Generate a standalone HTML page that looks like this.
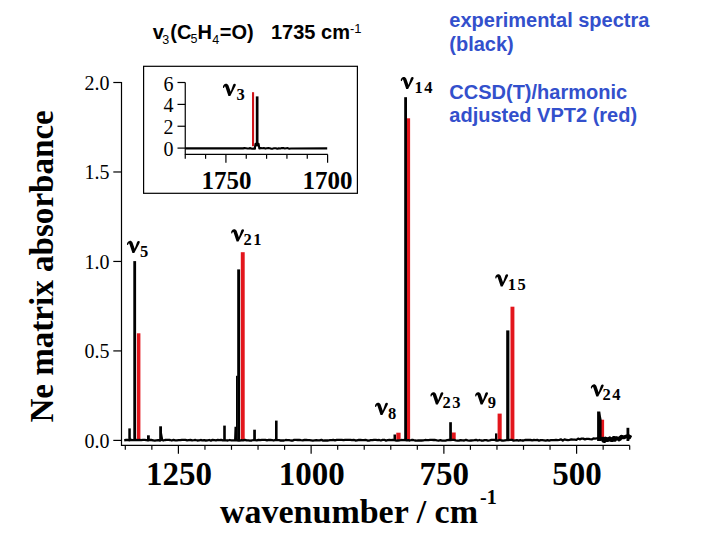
<!DOCTYPE html>
<html><head><meta charset="utf-8">
<style>
html,body{margin:0;padding:0;background:#fff;}
body{width:720px;height:540px;overflow:hidden;position:relative;}
svg{position:absolute;left:0;top:0;}
</style></head><body>
<svg width="720" height="540" viewBox="0 0 720 540">

<g font-family="Liberation Sans, sans-serif" font-weight="bold" font-size="20" fill="#000">
<text x="152.7" y="39.4">v</text>
<text x="162.3" y="43.6" font-weight="normal" font-size="12.5">3</text>
<text x="170.3" y="38.6">(C</text>
<text x="190.5" y="43.3" font-weight="normal" font-size="12.5">5</text>
<text x="197.6" y="38.6">H</text>
<text x="212.3" y="43.7" font-weight="normal" font-size="12.5">4</text>
<text x="219.8" y="38.6">=O)</text>
<text x="271" y="38.6">1735 cm<tspan font-weight="normal" font-size="13" dy="-5.5">-1</tspan></text>
</g>
<g font-family="Liberation Sans, sans-serif" font-weight="bold" font-size="20" fill="#3350cc">
<text x="449.3" y="26.8">experimental spectra</text>
<text x="449.3" y="51">(black)</text>
<text x="449.3" y="98.5">CCSD(T)/harmonic</text>
<text x="449.3" y="122.1">adjusted VPT2 (red)</text>
</g>

<g stroke="#000" stroke-width="1.2" fill="none">
<path d="M121.5 82 V445.4 H629.8"/>
<path d="M113.3 440.40 H121.5"/>
<path d="M113.3 350.92 H121.5"/>
<path d="M113.3 261.45 H121.5"/>
<path d="M113.3 171.98 H121.5"/>
<path d="M113.3 82.50 H121.5"/>
<path d="M125.31 445.4 V449.8"/>
<path d="M151.85 445.4 V449.8"/>
<path d="M178.40 445.4 V453.8"/>
<path d="M204.95 445.4 V449.8"/>
<path d="M231.49 445.4 V449.8"/>
<path d="M258.04 445.4 V449.8"/>
<path d="M284.59 445.4 V449.8"/>
<path d="M311.13 445.4 V453.8"/>
<path d="M337.68 445.4 V449.8"/>
<path d="M364.23 445.4 V449.8"/>
<path d="M390.77 445.4 V449.8"/>
<path d="M417.32 445.4 V449.8"/>
<path d="M443.87 445.4 V453.8"/>
<path d="M470.41 445.4 V449.8"/>
<path d="M496.96 445.4 V449.8"/>
<path d="M523.51 445.4 V449.8"/>
<path d="M550.05 445.4 V449.8"/>
<path d="M576.60 445.4 V453.8"/>
<path d="M603.15 445.4 V449.8"/>
<path d="M629.69 445.4 V449.8"/>
</g>
<g font-family="Liberation Serif, serif" font-size="20" fill="#000" text-anchor="end">
<text x="109.5" y="89.80">2.0</text>
<text x="109.5" y="179.28">1.5</text>
<text x="109.5" y="268.75">1.0</text>
<text x="109.5" y="358.22">0.5</text>
<text x="109.5" y="447.70">0.0</text>
</g>
<g font-family="Liberation Serif, serif" font-weight="bold" font-size="33" fill="#000" text-anchor="middle">
<text x="178.90" y="484.8">1250</text>
<text x="311.63" y="484.8">1000</text>
<text x="444.37" y="484.8">750</text>
<text x="577.10" y="484.8">500</text>
</g>
<text font-family="Liberation Serif, serif" font-weight="bold" font-size="33" x="220" y="522.9" textLength="258" lengthAdjust="spacingAndGlyphs">wavenumber / cm</text>
<text font-family="Liberation Serif, serif" font-weight="bold" font-size="20" x="480" y="503.5">-1</text>
<text font-family="Liberation Serif, serif" font-weight="bold" font-size="33" transform="translate(52.8 422.6) rotate(-90)" textLength="312.4" lengthAdjust="spacingAndGlyphs">Ne matrix absorbance</text>
<g fill="#e3161c">
<rect x="136.9" y="333.3" width="3.5" height="106.5"/>
<rect x="240.8" y="252.2" width="3.9" height="187.6"/>
<rect x="396.3" y="432.7" width="4.3" height="7.1"/>
<rect x="406.7" y="118.3" width="3.4" height="321.5"/>
<rect x="451.8" y="432.5" width="3.9" height="7.3"/>
<rect x="497.6" y="413.6" width="4.1" height="26.2"/>
<rect x="510.5" y="306.7" width="3.9" height="133.1"/>
<rect x="600.4" y="419.7" width="3.7" height="20.1"/>
</g>
<path d="M124.2 440.3 L125.9 440.0 L127.6 439.9 L129.3 440.3 L131.0 439.8 L132.7 440.2 L134.4 440.1 L136.1 439.8 L137.8 440.2 L139.5 439.8 L141.2 440.1 L142.9 439.8 L144.6 439.8 L146.3 440.1 L148.0 440.5 L149.7 439.9 L151.4 440.0 L153.1 440.3 L154.8 440.6 L156.5 440.3 L158.2 440.1 L159.9 440.6 L161.6 439.8 L163.3 440.5 L165.0 440.0 L166.7 439.9 L168.4 439.9 L170.1 440.0 L171.8 440.5 L173.5 439.9 L175.2 440.3 L176.9 440.3 L178.6 440.1 L180.3 440.2 L182.0 439.8 L183.7 439.8 L185.4 439.9 L187.1 440.4 L188.8 440.1 L190.5 440.0 L192.2 440.3 L193.9 440.2 L195.6 440.0 L197.3 440.5 L199.0 440.4 L200.7 440.0 L202.4 440.3 L204.1 440.2 L205.8 440.5 L207.5 440.4 L209.2 440.0 L210.9 440.6 L212.6 439.9 L214.3 440.1 L216.0 440.4 L217.7 439.9 L219.4 440.2 L221.1 439.8 L222.8 440.4 L224.5 440.4 L226.2 440.3 L227.9 440.5 L229.6 440.0 L231.3 440.4 L233.0 440.3 L234.7 440.3 L236.4 440.2 L238.1 440.5 L239.8 440.6 L241.5 440.2 L243.2 440.3 L244.9 439.8 L246.6 440.4 L248.3 440.3 L250.0 440.6 L251.7 440.5 L253.4 440.0 L255.1 440.1 L256.8 440.4 L258.5 439.8 L260.2 440.2 L261.9 439.9 L263.6 439.9 L265.3 439.8 L267.0 440.4 L268.7 439.9 L270.4 440.0 L272.1 440.1 L273.8 440.5 L275.5 439.8 L277.2 440.2 L278.9 440.2 L280.6 440.5 L282.3 440.5 L284.0 440.5 L285.7 440.0 L287.4 440.1 L289.1 440.1 L290.8 440.5 L292.5 440.6 L294.2 439.9 L295.9 439.9 L297.6 440.0 L299.3 440.0 L301.0 440.2 L302.7 440.3 L304.4 440.0 L306.1 439.8 L307.8 440.1 L309.5 440.1 L311.2 440.3 L312.9 440.6 L314.6 440.4 L316.3 440.2 L318.0 440.3 L319.7 440.4 L321.4 439.8 L323.1 440.6 L324.8 440.5 L326.5 440.5 L328.2 440.5 L329.9 440.1 L331.6 440.1 L333.3 439.8 L335.0 440.3 L336.7 439.8 L338.4 439.8 L340.1 439.9 L341.8 439.9 L343.5 440.1 L345.2 439.8 L346.9 439.8 L348.6 439.9 L350.3 439.8 L352.0 440.1 L353.7 439.8 L355.4 440.5 L357.1 440.3 L358.8 439.9 L360.5 440.0 L362.2 440.1 L363.9 440.1 L365.6 439.9 L367.3 440.5 L369.0 440.6 L370.7 440.2 L372.4 440.2 L374.1 439.8 L375.8 439.8 L377.5 440.1 L379.2 440.0 L380.9 440.5 L382.6 439.9 L384.3 439.8 L386.0 440.6 L387.7 440.2 L389.4 439.9 L391.1 440.2 L392.8 439.8 L394.5 440.2 L396.2 440.6 L397.9 440.5 L399.6 440.4 L401.3 440.0 L403.0 440.1 L404.7 439.9 L406.4 440.4 L408.1 440.2 L409.8 440.5 L411.5 440.0 L413.2 440.0 L414.9 440.5 L416.6 440.6 L418.3 440.5 L420.0 440.5 L421.7 440.5 L423.4 440.4 L425.1 440.0 L426.8 440.2 L428.5 440.1 L430.2 439.8 L431.9 439.8 L433.6 440.0 L435.3 440.0 L437.0 440.4 L438.7 440.6 L440.4 440.2 L442.1 440.6 L443.8 440.6 L445.5 440.6 L447.2 440.1 L448.9 439.9 L450.6 440.0 L452.3 439.9 L454.0 439.9 L455.7 440.3 L457.4 440.6 L459.1 440.5 L460.8 440.2 L462.5 440.3 L464.2 440.5 L465.9 439.8 L467.6 440.3 L469.3 440.6 L471.0 440.5 L472.7 440.4 L474.4 440.2 L476.1 439.9 L477.8 440.5 L479.5 440.0 L481.2 440.5 L482.9 440.6 L484.6 440.1 L486.3 440.1 L488.0 440.6 L489.7 440.4 L491.4 439.9 L493.1 439.9 L494.8 439.9 L496.5 440.6 L498.2 440.5 L499.9 439.9 L501.6 440.5 L503.3 440.6 L505.0 440.3 L506.7 440.1 L508.4 440.2 L510.1 439.9 L511.8 439.8 L513.5 440.6 L515.2 440.3 L516.9 440.2 L518.6 440.6 L520.3 440.1 L522.0 440.5 L523.7 440.5 L525.4 439.9 L527.1 440.0 L528.8 440.0 L530.5 440.0 L532.2 440.3 L533.9 440.0 L535.6 440.1 L537.3 439.9 L539.0 440.6 L540.7 440.1 L542.4 440.2 L544.1 440.3 L545.8 440.6 L547.5 440.1 L549.2 440.6 L550.9 440.2 L552.6 440.2 L554.3 440.2 L556.0 439.8 L557.7 440.1 L559.4 439.9 L561.1 439.3 L562.8 440.6 L564.5 439.4 L566.2 439.8 L567.9 440.2 L569.6 439.8 L571.3 439.3 L573.0 439.6 L574.7 439.6 L576.4 439.9 L578.1 438.6 L579.8 439.3 L581.5 438.7 L583.2 438.6 L584.9 439.4 L586.6 438.9 L588.3 438.9 L590.0 439.2 L591.7 439.4 L593.4 438.4 L595.1 438.6 L596.8 438.4 L598.5 438.3 L600.2 438.5 L601.9 438.0 L603.6 438.1 L605.3 437.9 L607.0 438.6 L608.7 438.1 L610.4 438.4 L612.1 438.4 L613.8 437.1 L615.5 437.5 L617.2 438.1 L618.9 437.9 L620.6 436.5 L622.3 436.4 L624.0 436.9 L625.7 436.1 L627.4 436.4 L629.1 436.0 L629.8 437.0" fill="none" stroke="#000" stroke-width="2.3" stroke-linejoin="round"/>
<path d="M602 437.5 L603.3 440.9 L604.6 441.1 L605.9 438.7 L607.2 440.2 L608.5 439.9 L609.8 438.2 L611.1 440.2 L612.4 440.3 L613.7 437.9 L615.0 439.9 L616.3 438.1 L617.6 438.2 L618.9 439.6 L620.2 438.9 L621.5 436.7 L622.8 437.4 L624.1 437.5 L625.4 436.8 L626.7 436.2 L628.0 436.4 L629.3 437.5 L630.6 435.2" fill="none" stroke="#000" stroke-width="3.6" stroke-linejoin="round"/>
<g fill="#000">
<rect x="128.3" y="428.4" width="2.5" height="12.6"/>
<rect x="133.3" y="261.1" width="2.8" height="179.9"/>
<rect x="147.0" y="435.3" width="2.8" height="5.7"/>
<rect x="159.2" y="426.3" width="2.8" height="14.7"/>
<rect x="223.2" y="425.6" width="2.6" height="15.4"/>
<rect x="236.0" y="375.8" width="1.6" height="65.2"/>
<rect x="237.2" y="269.4" width="2.9" height="171.6"/>
<rect x="253.2" y="429.7" width="2.7" height="11.3"/>
<rect x="275.0" y="420.6" width="2.6" height="20.4"/>
<rect x="393.5" y="434.5" width="2.5" height="6.5"/>
<rect x="404.2" y="97.2" width="2.8" height="343.8"/>
<rect x="449.2" y="422.2" width="2.7" height="18.8"/>
<rect x="495.0" y="433.4" width="2.3" height="7.6"/>
<rect x="506.2" y="330.4" width="3.2" height="110.6"/>
<rect x="597.1" y="411.5" width="3.2" height="29.5"/>
<rect x="626.5" y="427.8" width="2.8" height="13.2"/>
<path d="M600 411.8 L601.6 419.5 L601.6 441 L600 441Z M130.5 437 L132 441 L130.5 441Z M161.5 430 L163.5 441 L161.5 441Z M234.5 426.7 L236 426.7 L236 441 L234 441Z"/>
</g>
<path d="M0.1 3.6 C-0.2 2.2 0.8 0.3 2.7 0.0 C3.9 -0.2 5.0 0.5 5.6 1.7 L7.8 7.9 L10.2 1.0 C10.5 0.3 11.3 -0.1 12.0 0 C12.7 0.1 13.0 0.6 12.9 1.2 C12.8 1.8 12.6 2.3 12.3 2.8 L7.4 12.1 L5.5 12.1 L2.5 3.1 C2.3 2.5 1.8 2.5 1.5 2.9 C1.3 3.3 1.4 3.9 0.9 4.1 C0.5 4.2 0.2 4.0 0.1 3.6 Z" transform="translate(126.9 240.9)"/>
<text x="140.00" y="256.70" font-family="Liberation Serif, serif" font-weight="bold" font-size="16.5" fill="#000">5</text>
<path d="M0.1 3.6 C-0.2 2.2 0.8 0.3 2.7 0.0 C3.9 -0.2 5.0 0.5 5.6 1.7 L7.8 7.9 L10.2 1.0 C10.5 0.3 11.3 -0.1 12.0 0 C12.7 0.1 13.0 0.6 12.9 1.2 C12.8 1.8 12.6 2.3 12.3 2.8 L7.4 12.1 L5.5 12.1 L2.5 3.1 C2.3 2.5 1.8 2.5 1.5 2.9 C1.3 3.3 1.4 3.9 0.9 4.1 C0.5 4.2 0.2 4.0 0.1 3.6 Z" transform="translate(231.1 229.3)"/>
<text x="243.60" y="245.00" font-family="Liberation Serif, serif" font-weight="bold" font-size="16.5" letter-spacing="1.5" fill="#000">21</text>
<path d="M0.1 3.6 C-0.2 2.2 0.8 0.3 2.7 0.0 C3.9 -0.2 5.0 0.5 5.6 1.7 L7.8 7.9 L10.2 1.0 C10.5 0.3 11.3 -0.1 12.0 0 C12.7 0.1 13.0 0.6 12.9 1.2 C12.8 1.8 12.6 2.3 12.3 2.8 L7.4 12.1 L5.5 12.1 L2.5 3.1 C2.3 2.5 1.8 2.5 1.5 2.9 C1.3 3.3 1.4 3.9 0.9 4.1 C0.5 4.2 0.2 4.0 0.1 3.6 Z" transform="translate(400.7 77.0)"/>
<text x="414.50" y="92.75" font-family="Liberation Serif, serif" font-weight="bold" font-size="16.5" letter-spacing="1.5" fill="#000">14</text>
<path d="M0.1 3.6 C-0.2 2.2 0.8 0.3 2.7 0.0 C3.9 -0.2 5.0 0.5 5.6 1.7 L7.8 7.9 L10.2 1.0 C10.5 0.3 11.3 -0.1 12.0 0 C12.7 0.1 13.0 0.6 12.9 1.2 C12.8 1.8 12.6 2.3 12.3 2.8 L7.4 12.1 L5.5 12.1 L2.5 3.1 C2.3 2.5 1.8 2.5 1.5 2.9 C1.3 3.3 1.4 3.9 0.9 4.1 C0.5 4.2 0.2 4.0 0.1 3.6 Z" transform="translate(375 402.8)"/>
<text x="388.10" y="418.70" font-family="Liberation Serif, serif" font-weight="bold" font-size="16.5" fill="#000">8</text>
<path d="M0.1 3.6 C-0.2 2.2 0.8 0.3 2.7 0.0 C3.9 -0.2 5.0 0.5 5.6 1.7 L7.8 7.9 L10.2 1.0 C10.5 0.3 11.3 -0.1 12.0 0 C12.7 0.1 13.0 0.6 12.9 1.2 C12.8 1.8 12.6 2.3 12.3 2.8 L7.4 12.1 L5.5 12.1 L2.5 3.1 C2.3 2.5 1.8 2.5 1.5 2.9 C1.3 3.3 1.4 3.9 0.9 4.1 C0.5 4.2 0.2 4.0 0.1 3.6 Z" transform="translate(430.4 392.3)"/>
<text x="442.50" y="407.90" font-family="Liberation Serif, serif" font-weight="bold" font-size="16.5" letter-spacing="1.5" fill="#000">23</text>
<path d="M0.1 3.6 C-0.2 2.2 0.8 0.3 2.7 0.0 C3.9 -0.2 5.0 0.5 5.6 1.7 L7.8 7.9 L10.2 1.0 C10.5 0.3 11.3 -0.1 12.0 0 C12.7 0.1 13.0 0.6 12.9 1.2 C12.8 1.8 12.6 2.3 12.3 2.8 L7.4 12.1 L5.5 12.1 L2.5 3.1 C2.3 2.5 1.8 2.5 1.5 2.9 C1.3 3.3 1.4 3.9 0.9 4.1 C0.5 4.2 0.2 4.0 0.1 3.6 Z" transform="translate(475.1 392.3)"/>
<text x="487.70" y="407.90" font-family="Liberation Serif, serif" font-weight="bold" font-size="16.5" fill="#000">9</text>
<path d="M0.1 3.6 C-0.2 2.2 0.8 0.3 2.7 0.0 C3.9 -0.2 5.0 0.5 5.6 1.7 L7.8 7.9 L10.2 1.0 C10.5 0.3 11.3 -0.1 12.0 0 C12.7 0.1 13.0 0.6 12.9 1.2 C12.8 1.8 12.6 2.3 12.3 2.8 L7.4 12.1 L5.5 12.1 L2.5 3.1 C2.3 2.5 1.8 2.5 1.5 2.9 C1.3 3.3 1.4 3.9 0.9 4.1 C0.5 4.2 0.2 4.0 0.1 3.6 Z" transform="translate(495.2 274.3)"/>
<text x="507.70" y="289.60" font-family="Liberation Serif, serif" font-weight="bold" font-size="16.5" letter-spacing="1.5" fill="#000">15</text>
<path d="M0.1 3.6 C-0.2 2.2 0.8 0.3 2.7 0.0 C3.9 -0.2 5.0 0.5 5.6 1.7 L7.8 7.9 L10.2 1.0 C10.5 0.3 11.3 -0.1 12.0 0 C12.7 0.1 13.0 0.6 12.9 1.2 C12.8 1.8 12.6 2.3 12.3 2.8 L7.4 12.1 L5.5 12.1 L2.5 3.1 C2.3 2.5 1.8 2.5 1.5 2.9 C1.3 3.3 1.4 3.9 0.9 4.1 C0.5 4.2 0.2 4.0 0.1 3.6 Z" transform="translate(590.8 384.4)"/>
<text x="602.60" y="400.40" font-family="Liberation Serif, serif" font-weight="bold" font-size="16.5" letter-spacing="1.5" fill="#000">24</text>
<path d="M0.1 3.6 C-0.2 2.2 0.8 0.3 2.7 0.0 C3.9 -0.2 5.0 0.5 5.6 1.7 L7.8 7.9 L10.2 1.0 C10.5 0.3 11.3 -0.1 12.0 0 C12.7 0.1 13.0 0.6 12.9 1.2 C12.8 1.8 12.6 2.3 12.3 2.8 L7.4 12.1 L5.5 12.1 L2.5 3.1 C2.3 2.5 1.8 2.5 1.5 2.9 C1.3 3.3 1.4 3.9 0.9 4.1 C0.5 4.2 0.2 4.0 0.1 3.6 Z" transform="translate(222.9 83.8)"/>
<text x="236.50" y="99.50" font-family="Liberation Serif, serif" font-weight="bold" font-size="16.5" fill="#000">3</text>
<rect x="143.6" y="66.3" width="213.8" height="127" fill="none" stroke="#000" stroke-width="1.2"/>
<g stroke="#000" stroke-width="1.2" fill="none">
<path d="M185.25 82.5 V154.4 H327.8"/>
<path d="M177.5 82.5 H185.25"/>
<path d="M177.5 104.4 H185.25"/>
<path d="M177.5 126.25 H185.25"/>
<path d="M177.5 148.1 H185.25"/>
<path d="M185.25 154.4 V158.8"/>
<path d="M205.59 154.4 V158.8"/>
<path d="M225.92 154.4 V162.8"/>
<path d="M246.26 154.4 V158.8"/>
<path d="M266.59 154.4 V158.8"/>
<path d="M286.93 154.4 V158.8"/>
<path d="M307.27 154.4 V158.8"/>
<path d="M327.60 154.4 V162.8"/>
</g>
<g font-family="Liberation Serif, serif" font-size="20" fill="#000" text-anchor="end">
<text x="173.6" y="90.50">6</text>
<text x="173.6" y="112.40">4</text>
<text x="173.6" y="134.25">2</text>
<text x="173.6" y="156.10">0</text>
</g>
<g font-family="Liberation Serif, serif" font-weight="bold" font-size="25" fill="#000" text-anchor="middle">
<text x="226.6" y="188.9">1750</text><text x="327.5" y="188.8">1700</text>
</g>
<rect x="252" y="92.2" width="2.1" height="54" fill="#d0141a"/>
<path d="M185.25 148.4 L240 148.4 L241.5 148.4 L243.0 148.4 L244.5 148.1 L246.0 148.3 L247.5 148.5 L249.0 148.4 L250.5 148.1 L252.0 148.7 L253.5 148.6 L255.0 148.7 L254.8 148.4 L255.5 143.8 L258.6 143.8 L259.3 148.4 L260.8 148.1 L262.3 148.2 L263.8 148.1 L265.3 148.6 L266.8 148.2 L268.3 148.1 L269.8 148.3 L271.3 148.7 L272.8 148.6 L274.3 148.2 L275.8 148.2 L277.3 148.7 L278.8 148.4 L280.3 148.5 L281.8 148.1 L283.3 148.1 L284.8 148.5 L286.3 148.3 L287.8 148.1 L289.3 148.7 L290.8 148.5 L327.2 148.4" fill="none" stroke="#000" stroke-width="2.1" stroke-linejoin="round"/>
<rect x="255.8" y="96.4" width="2.7" height="50" fill="#000"/>
</svg>
</body></html>
